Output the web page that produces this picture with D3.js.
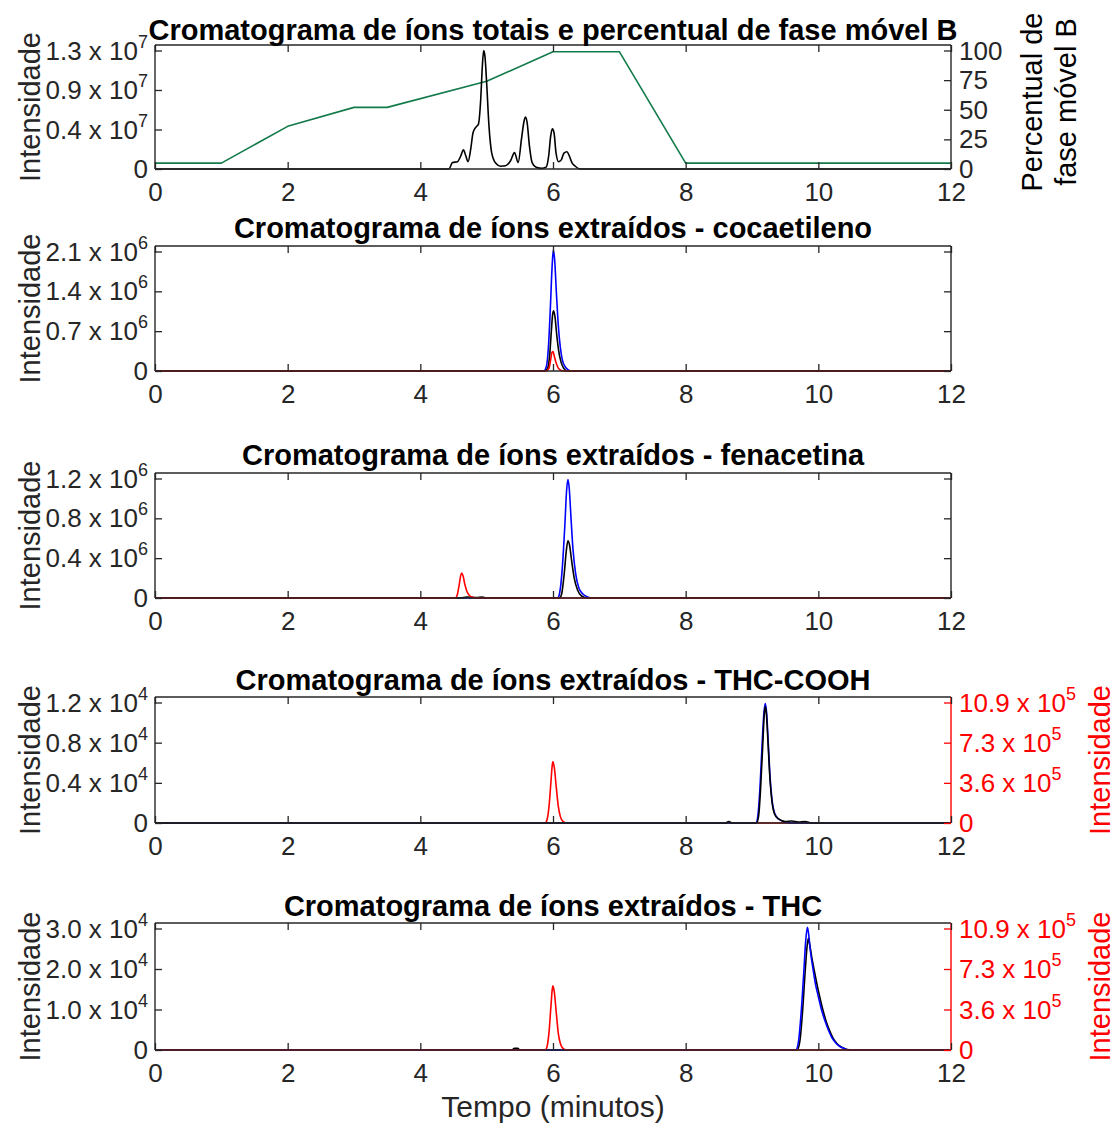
<!DOCTYPE html>
<html>
<head>
<meta charset="utf-8">
<script src="https://cdn.jsdelivr.net/npm/d3@7"></script>
<style>
  body { margin: 0; background: #fff; }
  svg text { font-family: "Liberation Sans", Arial, sans-serif; fill: #262626; }
</style>
</head>
<body>
<div id="viz"></div>
<script>
// eixo do tempo (minutos)
const timeTicks = [0, 2, 4, 6, 8, 10, 12];

// painel 1: TIC (x 10^6) e gradiente (% B)
const ticSeries = [[0,0],[4.43,0],[4.485,0.7],[4.56,0.8],[4.61,1.45],[4.65,2.1],[4.685,1.45],[4.72,0.8],[4.76,2.2],[4.795,4.0],[4.845,4.65],[4.875,4.9],[4.91,7.6],[4.935,11.3],[4.955,13.0],[4.975,12.3],[5.0,9.4],[5.035,4.7],[5.075,1.8],[5.135,0.65],[5.21,0.3],[5.285,0.35],[5.36,0.9],[5.42,1.8],[5.475,0.7],[5.525,3.3],[5.565,5.3],[5.585,5.7],[5.61,5.1],[5.645,2.5],[5.685,0.7],[5.745,0.2],[5.835,0.07],[5.895,0.2],[5.935,1.45],[5.965,3.6],[5.99,4.4],[6.015,4.0],[6.045,1.8],[6.085,0.8],[6.125,1.0],[6.165,1.75],[6.21,1.9],[6.245,1.45],[6.285,0.7],[6.335,0.3],[6.41,0],[12,0]];
const gradientB = [[0,5],[1,5],[2,36],[3,52],[3.5,52],[5,74],[6,99],[7,99],[8,5],[12,5]];
const p1Ticks = [0, 4.333, 8.667, 13];
const p1Labels = ["0", "0.4", "0.9", "1.3"];
const p1RightTicks = [0, 25, 50, 75, 100];

// painel 2: cocaetileno (x 10^6)
const cocaBlue = [[0,0],[5.86,0],[5.9,0.08],[5.93,0.4],[5.96,1.1],[5.985,1.8],[6.005,2.13],[6.025,1.95],[6.05,1.4],[6.08,0.8],[6.11,0.42],[6.14,0.2],[6.18,0.08],[6.23,0.02],[6.28,0],[12,0]];
const cocaBlack = [[0,0],[5.88,0],[5.92,0.05],[5.95,0.28],[5.975,0.7],[5.995,1.0],[6.01,1.06],[6.03,0.95],[6.055,0.65],[6.085,0.36],[6.12,0.16],[6.16,0.05],[6.21,0],[12,0]];
const cocaRed = [[0,0],[5.9,0],[5.94,0.05],[5.965,0.2],[5.985,0.33],[6.0,0.34],[6.02,0.26],[6.05,0.13],[6.08,0.05],[6.12,0.01],[6.15,0],[12,0]];
const p2Ticks = [0, 0.7, 1.4, 2.1];
const p2Labels = ["0", "0.7", "1.4", "2.1"];

// painel 3: fenacetina (x 10^6)
const fenaBlue = [[0,0],[6.07,0],[6.1,0.05],[6.14,0.3],[6.18,0.75],[6.205,1.08],[6.225,1.19],[6.245,1.1],[6.27,0.82],[6.3,0.5],[6.34,0.25],[6.39,0.1],[6.45,0.04],[6.52,0.01],[6.6,0],[12,0]];
const fenaBlack = [[0,0],[4.6,0],[4.7,0.01],[4.85,0.005],[4.93,0.01],[5.0,0],[6.1,0],[6.13,0.04],[6.17,0.25],[6.2,0.47],[6.225,0.575],[6.25,0.53],[6.28,0.38],[6.32,0.2],[6.37,0.08],[6.43,0.02],[6.52,0],[12,0]];
const fenaRed = [[0,0],[4.53,0],[4.56,0.04],[4.59,0.15],[4.61,0.23],[4.625,0.25],[4.645,0.22],[4.67,0.14],[4.7,0.07],[4.74,0.025],[4.8,0.005],[4.85,0],[12,0]];
const p3Ticks = [0, 0.4, 0.8, 1.2];
const p3Labels = ["0", "0.4", "0.8", "1.2"];

// painel 4: THC-COOH (esq. x 10^4, dir. x 10^5)
const coohBlue = [[0,0],[9.06,0],[9.09,0.08],[9.12,0.35],[9.15,0.75],[9.18,1.1],[9.2,1.19],[9.22,1.1],[9.245,0.8],[9.27,0.48],[9.3,0.24],[9.34,0.1],[9.4,0.04],[9.5,0.01],[9.6,0],[12,0]];
const coohBlack = [[0,0],[8.6,0],[8.65,0.015],[8.7,0],[9.07,0],[9.1,0.07],[9.13,0.35],[9.16,0.75],[9.185,1.08],[9.2,1.16],[9.215,1.1],[9.24,0.82],[9.265,0.5],[9.3,0.22],[9.34,0.09],[9.4,0.04],[9.5,0.015],[9.6,0.02],[9.7,0.01],[9.8,0.015],[9.9,0],[12,0]];
const coohRed = [[0,0],[5.88,0],[5.91,0.3],[5.94,1.5],[5.97,3.8],[5.99,5.3],[6.0,5.55],[6.02,5.0],[6.05,3.2],[6.08,1.5],[6.11,0.6],[6.15,0.15],[6.2,0.02],[6.3,0],[12,0]];
const p4Ticks = [0, 0.4, 0.8, 1.2];
const p4Labels = ["0", "0.4", "0.8", "1.2"];

// painel 5: THC (esq. x 10^4, dir. x 10^5)
const thcBlue = [[0,0],[9.66,0],[9.7,0.2],[9.74,0.9],[9.78,1.9],[9.81,2.7],[9.835,3.03],[9.855,2.85],[9.88,2.45],[9.92,2.0],[9.96,1.6],[10.0,1.32],[10.05,0.98],[10.1,0.72],[10.15,0.5],[10.2,0.32],[10.26,0.18],[10.33,0.08],[10.4,0.03],[10.45,0],[12,0]];
const thcBlack = [[0,0],[5.38,0],[5.42,0.04],[5.47,0.04],[5.5,0],[9.68,0],[9.72,0.2],[9.76,0.9],[9.8,1.9],[9.83,2.55],[9.85,2.76],[9.87,2.6],[9.9,2.3],[9.94,1.95],[9.98,1.62],[10.02,1.32],[10.07,0.98],[10.12,0.7],[10.17,0.48],[10.22,0.3],[10.28,0.16],[10.35,0.07],[10.42,0.02],[10.5,0],[12,0]];
const thcRed = [[0,0],[5.88,0],[5.91,0.3],[5.94,1.6],[5.97,4.0],[5.99,5.5],[6.0,5.75],[6.02,5.2],[6.05,3.3],[6.08,1.5],[6.11,0.6],[6.15,0.15],[6.2,0.02],[6.3,0],[12,0]];
const p5Ticks = [0, 1, 2, 3];
const p5Labels = ["0", "1.0", "2.0", "3.0"];

// eixo vermelho (x 10^5) dos painéis 4 e 5
const redTicks = [0, 3.633, 7.267, 10.9];
const redLabels = ["0", "3.6", "7.3", "10.9"];

const width = 1116, height = 1124;
const xLeft = 155, xRight = 951;
const tickLen = 7;
const axisColor = "#262626";
const tickFont = 26;

const svg = d3.select("#viz").append("svg")
  .attr("width", width).attr("height", height);

const x = d3.scaleLinear().domain([0, 12]).range([xLeft, xRight]);

const panels = [
  { title: "Cromatograma de íons totais e percentual de fase móvel B", top: 45, bottom: 169, titleY: 40,
    ticks: p1Ticks, labels: p1Labels, exp: "7",
    series: [{ data: gradientB, color: "#137a4a", axis: "right", linear: true }, { data: ticSeries, color: "#000" }],
    right: { ticks: p1RightTicks, labels: p1RightTicks.map(String), exp: null, color: axisColor, title: ["Percentual de", "fase móvel B"] } },
  { title: "Cromatograma de íons extraídos - cocaetileno", top: 246, bottom: 371, titleY: 238,
    ticks: p2Ticks, labels: p2Labels, exp: "6",
    series: [{ data: cocaBlue, color: "#0000ff" }, { data: cocaBlack, color: "#000" }, { data: cocaRed, color: "#ff0000" }] },
  { title: "Cromatograma de íons extraídos - fenacetina", top: 473, bottom: 598, titleY: 465,
    ticks: p3Ticks, labels: p3Labels, exp: "6",
    series: [{ data: fenaBlue, color: "#0000ff" }, { data: fenaBlack, color: "#000" }, { data: fenaRed, color: "#ff0000" }] },
  { title: "Cromatograma de íons extraídos - THC-COOH", top: 697, bottom: 823, titleY: 690,
    ticks: p4Ticks, labels: p4Labels, exp: "4",
    series: [{ data: coohRed, color: "#ff0000", axis: "right" }, { data: coohBlue, color: "#0000ff" }, { data: coohBlack, color: "#000" }],
    right: { ticks: redTicks, labels: redLabels, exp: "5", color: "#ff0000", title: ["Intensidade"] } },
  { title: "Cromatograma de íons extraídos - THC", top: 923, bottom: 1050, titleY: 916,
    ticks: p5Ticks, labels: p5Labels, exp: "4",
    series: [{ data: thcBlack, color: "#000" }, { data: thcBlue, color: "#0000ff" }, { data: thcRed, color: "#ff0000", axis: "right" }],
    right: { ticks: redTicks, labels: redLabels, exp: "5", color: "#ff0000", title: ["Intensidade"] } }
];

// rótulo "m x 10^e" com expoente sobrescrito
function sciLabel(text, mant, exp) {
  if (exp == null || mant === "0") { text.text(mant); return; }
  text.append("tspan").text(mant + " x 10");
  text.append("tspan").attr("dy", -12).attr("font-size", 18).text(exp);
}

function yAxis(g, scale, ticks, labels, exp, side, color) {
  const gen = side === "left" ? d3.axisLeft(scale) : d3.axisRight(scale);
  g.call(gen.tickValues(ticks).tickSizeInner(-tickLen).tickSizeOuter(0).tickFormat(() => ""));
  g.select(".domain").remove();
  g.selectAll(".tick line").attr("stroke", color).attr("stroke-width", 1.3);
  if (!labels) return;
  g.selectAll(".tick").each(function(d, i) {
    const t = d3.select(this).append("text")
      .attr("x", side === "left" ? -7 : 8)
      .attr("dy", "0.33em")
      .attr("text-anchor", side === "left" ? "end" : "start")
      .attr("font-size", tickFont)
      .style("fill", color);
    sciLabel(t, labels[i], exp);
  });
}

panels.forEach(p => {
  const g = svg.append("g");
  const yMax = p.ticks[p.ticks.length - 1] * (p.bottom - p.top) / (p.bottom - p.top - 5.5);
  const y = d3.scaleLinear().domain([0, yMax]).range([p.bottom, p.top]);
  let yR = null;
  if (p.right) {
    const rMax = p.right.ticks[p.right.ticks.length - 1] * (p.bottom - p.top) / (p.bottom - p.top - 5.5);
    yR = d3.scaleLinear().domain([0, rMax]).range([p.bottom, p.top]);
  }

  // curvas
  p.series.forEach(s => {
    const ys = s.axis === "right" ? yR : y;
    const line = d3.line()
      .x(d => x(d[0])).y(d => ys(d[1]))
      .curve(s.linear ? d3.curveLinear : d3.curveMonotoneX);
    g.append("path").datum(s.data)
      .attr("d", line)
      .attr("fill", "none")
      .attr("stroke", s.color)
      .attr("stroke-width", 1.6)
      .attr("stroke-linejoin", "round");
  });

  // caixa
  g.append("line").attr("x1", xLeft).attr("x2", xRight).attr("y1", p.top).attr("y2", p.top).attr("stroke", axisColor).attr("stroke-width", 1.4);
  g.append("line").attr("x1", xLeft).attr("x2", xRight).attr("y1", p.bottom).attr("y2", p.bottom).attr("stroke", axisColor).attr("stroke-width", 1.4);
  g.append("line").attr("x1", xLeft).attr("x2", xLeft).attr("y1", p.top).attr("y2", p.bottom).attr("stroke", axisColor).attr("stroke-width", 1.4);
  g.append("line").attr("x1", xRight).attr("x2", xRight).attr("y1", p.top).attr("y2", p.bottom)
    .attr("stroke", p.right ? p.right.color : axisColor).attr("stroke-width", 1.4);

  // eixo x (embaixo com rótulos, em cima só marcas)
  const xb = g.append("g").attr("transform", `translate(0,${p.bottom})`)
    .call(d3.axisBottom(x).tickValues(timeTicks).tickSizeInner(-tickLen).tickSizeOuter(0).tickPadding(14).tickFormat(d3.format("d")));
  xb.select(".domain").remove();
  xb.selectAll(".tick line").attr("stroke", axisColor).attr("stroke-width", 1.3);
  xb.selectAll("text").attr("font-size", tickFont).style("fill", axisColor);
  xb.attr("font-family", null).attr("font-size", null);

  const xt = g.append("g").attr("transform", `translate(0,${p.top})`)
    .call(d3.axisTop(x).tickValues(timeTicks).tickSizeInner(-tickLen).tickSizeOuter(0).tickFormat(() => ""));
  xt.select(".domain").remove();
  xt.selectAll(".tick line").attr("stroke", axisColor).attr("stroke-width", 1.3);

  // eixo y esquerdo
  const yl = g.append("g").attr("transform", `translate(${xLeft},0)`);
  yAxis(yl, y, p.ticks, p.labels, p.exp, "left", axisColor);
  yl.attr("font-family", null).attr("font-size", null);

  // eixo y direito
  const yr = g.append("g").attr("transform", `translate(${xRight},0)`);
  if (p.right) {
    yAxis(yr, yR, p.right.ticks, p.right.labels, p.right.exp, "right", p.right.color);
  } else {
    yAxis(yr, y, p.ticks, null, null, "right", axisColor);
  }
  yr.attr("font-family", null).attr("font-size", null);

  // títulos
  g.append("text")
    .attr("x", (xLeft + xRight) / 2).attr("y", p.titleY)
    .attr("text-anchor", "middle")
    .attr("font-size", 29).attr("font-weight", "bold")
    .style("fill", "#000")
    .text(p.title);

  const cy = (p.top + p.bottom) / 2;
  g.append("text")
    .attr("transform", `translate(40,${cy}) rotate(-90)`)
    .attr("text-anchor", "middle")
    .attr("font-size", 29)
    .text("Intensidade");

  if (p.right) {
    const lines = p.right.title;
    if (lines.length === 2) {
      lines.forEach((t, i) => {
        svg.append("text")
          .attr("transform", `translate(${1042 + i * 34},102) rotate(-90)`)
          .attr("text-anchor", "middle")
          .attr("font-size", 29)
          .style("fill", "#000")
          .text(t);
      });
    } else {
      g.append("text")
        .attr("transform", `translate(1110,${cy}) rotate(-90)`)
        .attr("text-anchor", "middle")
        .attr("font-size", 29)
        .style("fill", p.right.color)
        .text(lines[0]);
    }
  }
});

svg.append("text")
  .attr("x", (xLeft + xRight) / 2).attr("y", 1117)
  .attr("text-anchor", "middle")
  .attr("font-size", 30)
  .text("Tempo (minutos)");
</script>
</body>
</html>
